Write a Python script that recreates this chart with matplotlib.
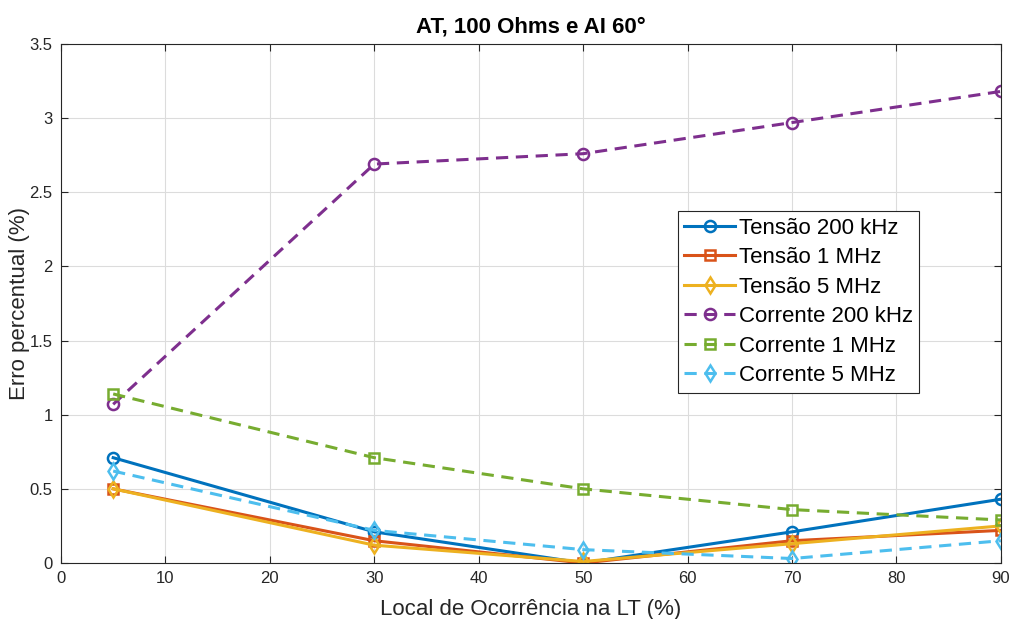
import matplotlib.pyplot as plt

plt.rcParams['font.family'] = ['Liberation Sans', 'DejaVu Sans']

# locais de falta ao longo da LT (%)
local = [5, 30, 50, 70, 90]

tensao_200k = [0.71, 0.21, 0.00, 0.21, 0.43]
tensao_1M = [0.50, 0.15, 0.00, 0.15, 0.22]
tensao_5M = [0.50, 0.12, 0.01, 0.13, 0.25]
corrente_200k = [1.07, 2.69, 2.76, 2.97, 3.18]
corrente_1M = [1.14, 0.71, 0.50, 0.36, 0.29]
corrente_5M = [0.62, 0.22, 0.09, 0.03, 0.15]

series = [
    ("Tensão 200 kHz", tensao_200k, '#0072BD', '-', 'o'),
    ("Tensão 1 MHz", tensao_1M, '#D95319', '-', 's'),
    ("Tensão 5 MHz", tensao_5M, '#EDB120', '-', 'd'),
    ("Corrente 200 kHz", corrente_200k, '#7E2F8E', '--', 'o'),
    ("Corrente 1 MHz", corrente_1M, '#77AC30', '--', 's'),
    ("Corrente 5 MHz", corrente_5M, '#4DBEEE', '--', 'd'),
]

fig = plt.figure(figsize=(10.11, 6.19), dpi=100)
ax = fig.add_axes([0.0603, 0.0905, 0.9297, 0.8385])

for nome, vals, cor, ls, mk in series:
    ms = {'o': 8, 's': 6.5, 'd': 8}[mk]
    ax.plot(local, vals, color=cor, linestyle=ls, linewidth=2.2, marker=mk,
            markersize=ms, markerfacecolor='none', markeredgewidth=1.8,
            label=nome, dashes=(4, 2.5) if ls == '--' else (None, None))

ax.set_xlim(0, 90)
ax.set_ylim(0, 3.5)
ax.set_xticks(range(0, 91, 10))
ax.set_yticks([0, 0.5, 1, 1.5, 2, 2.5, 3, 3.5])
ax.set_yticklabels(['0', '0.5', '1', '1.5', '2', '2.5', '3', '3.5'])
ax.grid(True, color='#dcdcdc', linewidth=0.8)
ax.set_axisbelow(True)
ax.tick_params(direction='in', top=True, right=True, labelsize=12,
               colors='#262626', length=5, pad=6)
for s in ax.spines.values():
    s.set_color('#262626')
    s.set_linewidth(0.8)

ax.set_xlabel('Local de Ocorrência na LT (%)', fontsize=16, color='#262626',
              labelpad=9)
ax.set_ylabel('Erro percentual (%)', fontsize=16, color='#262626', labelpad=0)
ax.set_title('AT, 100 Ohms e AI 60°', fontsize=16, fontweight='bold', pad=8)

leg = ax.legend(loc='upper left', bbox_to_anchor=(0.656, 0.678), fontsize=16,
                handlelength=2.3, handletextpad=0.15, borderpad=0.3,
                borderaxespad=0, labelspacing=0.38, fancybox=False,
                framealpha=1, edgecolor='#262626')
leg.get_frame().set_linewidth(0.8)

fig.savefig('out.png', dpi=100, facecolor='white')
